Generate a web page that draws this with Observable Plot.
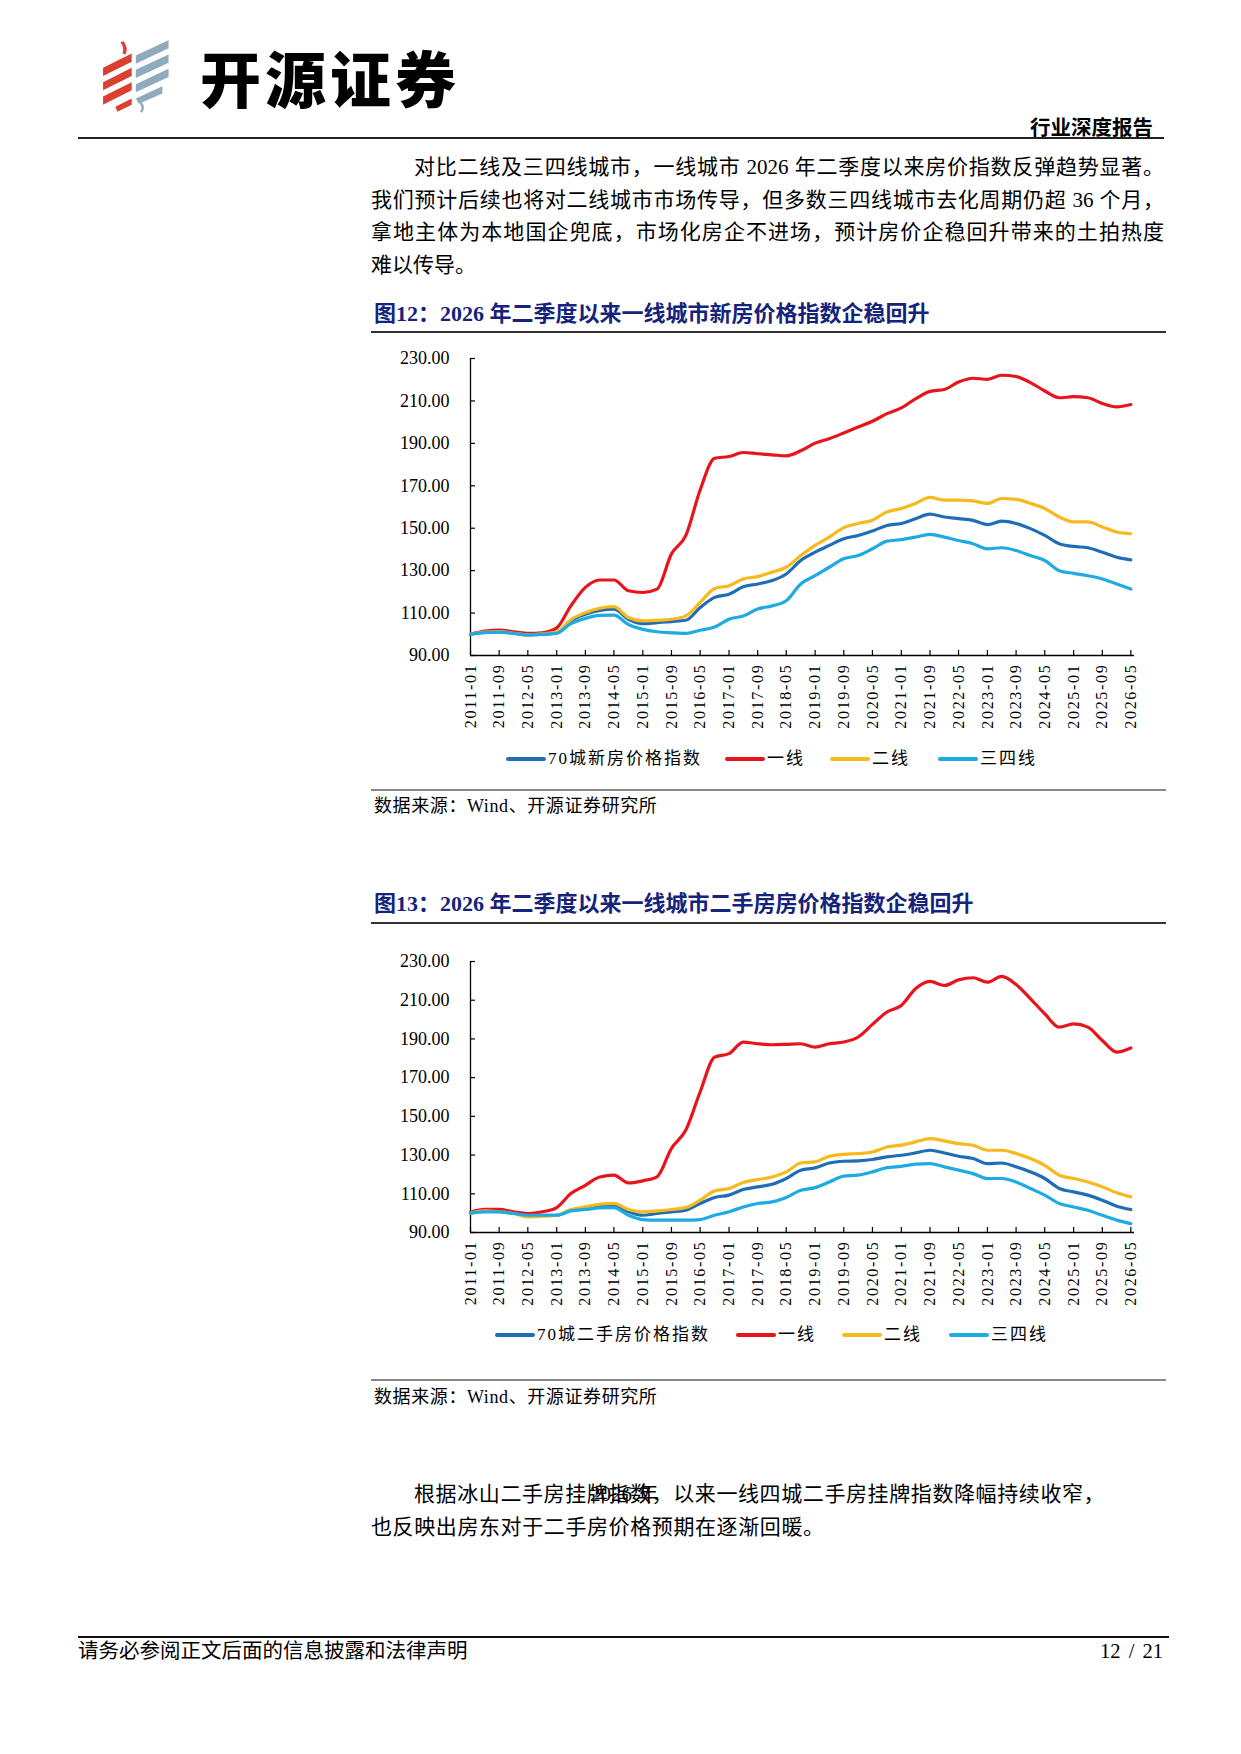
<!DOCTYPE html>
<html><head><meta charset="utf-8">
<script src="https://cdn.jsdelivr.net/npm/d3@7"></script>
<script src="https://cdn.jsdelivr.net/npm/@observablehq/plot@0.6"></script>
<style>
html,body{margin:0;padding:0;background:#fff;}
#page{position:relative;width:1241px;height:1754px;overflow:hidden;background:#fff;font-family:"Liberation Serif","Noto Sans CJK SC",serif;color:#000;}
.abs{position:absolute;white-space:nowrap;}
.rule{position:absolute;}
.para{position:absolute;font-size:21px;line-height:21px;white-space:nowrap;}
.just{text-align:justify;text-align-last:justify;}
.title{position:absolute;font-size:22px;line-height:22px;font-weight:bold;color:#15237a;white-space:nowrap;}
.src{position:absolute;font-size:18px;line-height:18px;letter-spacing:0.6px;white-space:nowrap;}
.lg-line{position:absolute;height:4px;border-radius:2px;}
.lg-text{position:absolute;font-size:17px;line-height:17px;letter-spacing:2px;white-space:nowrap;}
svg g[aria-label="x-axis tick label"] text{letter-spacing:1.7px;}
</style>
</head>
<body>
<div id="page"></div>
<script>
// ---------- DATA ----------
const months = ["2011-01","2011-05","2011-09","2012-01","2012-05","2012-09","2013-01","2013-05","2013-09","2014-01","2014-05","2014-09","2015-01","2015-05","2015-09","2016-01","2016-05","2016-09","2017-01","2017-05","2017-09","2018-01","2018-05","2018-09","2019-01","2019-05","2019-09","2020-01","2020-05","2020-09","2021-01","2021-05","2021-09","2022-01","2022-05","2022-09","2023-01","2023-05","2023-09","2024-01","2024-05","2024-09","2025-01","2025-05","2025-09","2026-01","2026-05"];
const tickLabels = ["2011-01","2011-09","2012-05","2013-01","2013-09","2014-05","2015-01","2015-09","2016-05","2017-01","2017-09","2018-05","2019-01","2019-09","2020-05","2021-01","2021-09","2022-05","2023-01","2023-09","2024-05","2025-01","2025-09","2026-05"];
const yTicks = [90,110,130,150,170,190,210,230];

const seriesNames1 = ["70城新房价格指数","一线","二线","三四线"];
const seriesNames2 = ["70城二手房价格指数","一线","二线","三四线"];
const seriesColors = ["#1f6db6","#e8141c","#f7b91b","#1eaae3"];

// 图12 新房
const new70  = [100,101,101.2,100.5,99.7,100,100.5,106.3,109.4,111.3,111.9,107.1,105,105.5,106,106.6,112.6,117.4,118.9,122.4,123.7,125.3,128.4,134.8,138.7,141.9,145,146.6,148.7,151.3,152.2,154.5,156.6,155.3,154.5,153.7,151.7,153.3,152.2,149.8,146.6,142.7,141.4,140.8,138.7,136.3,135.1];
const newT1  = [100,101.5,102,101.2,100.4,100.7,103,113.4,122.1,125.6,125.6,120.5,119.7,121.3,137.9,146.6,168,183,183.8,185.7,185.1,184.6,184.1,186.5,190.1,192.2,194.9,197.7,200.4,204,206.7,211,214.5,215.4,218.9,220.7,220.2,222.1,221.5,218.6,214.7,211.5,212,211.5,208.8,207.2,208.3];
const newT2  = [100,101,101.3,100.5,99.7,100.2,101,106.9,110.2,112.3,113,107.9,106.3,106.6,107.1,108.7,115,121.6,122.9,126.1,127.2,129.3,131.6,137.1,141.9,145.8,150.3,152.2,153.8,157.7,159.3,161.7,164.5,163.2,163.2,162.9,161.7,164,163.6,161.7,159.3,155.3,153,153,150.6,148.2,147.4];
const newT34 = [100,100.8,101,100.4,99.7,100,100.5,105,107.5,108.9,109,104.6,102.3,101.2,100.7,100.4,101.9,103.4,107.1,108.6,111.9,113.4,115.8,123.7,127.6,131.6,135.6,137.1,140.3,143.9,144.6,145.8,147.1,145.8,144.2,142.7,140.3,140.8,139.5,137.1,134.8,130,128.7,127.6,126.1,123.7,121.3];

// 图13 二手房
const sec70  = [100,101.2,101.2,100.1,99.3,98.9,98.9,101.5,102.4,103.6,103.6,100.7,98.9,99.8,100.7,101.5,105,108.1,109.3,112.2,113.6,114.9,117.9,122.2,123.4,125.9,126.8,127,127.7,129.1,129.9,131.1,132.5,131.1,129.4,128.2,125.6,125.9,123.9,121.3,117.9,112.7,111,109.3,106.7,103.6,101.9];
const secT1  = [100.5,101.9,101.9,100.7,99.8,100.7,102.9,110.1,114.4,118.7,119.6,115.6,116.7,118.7,133.5,143,162.6,180.6,182.4,188.4,187.5,187,187.2,187.5,185.8,187.5,188.4,191,197.5,203.9,207.3,215.9,219.7,217.6,220.5,221.6,219.3,222.3,218.1,210.7,203,196.1,197.8,196.1,189.2,183.2,185.3];
const secT2  = [100,101.2,100.7,99.8,98.1,98.4,98.9,101.9,103.2,104.6,105,101.9,100.7,101.2,101.9,102.9,106.7,111.5,112.7,115.8,117.3,118.7,121.3,125.9,126.5,129.4,130.4,130.8,131.6,134.2,135.1,136.8,138.5,137.3,135.9,135.1,132.5,132.5,130.8,128.2,124.7,119.6,117.9,116.1,113.6,110.5,108.4];
const secT34 = [100,100.7,100.7,99.8,98.9,98.9,98.9,101.2,101.9,102.7,102.9,98.9,96.7,96.4,96.4,96.4,96.7,98.9,100.7,103.2,105,105.8,108.1,111.8,113.2,116.1,119.1,119.6,121.3,123.5,124.2,125.3,125.6,123.9,122.2,120.4,117.9,117.9,116.1,112.7,109.3,105,103.2,101.5,98.9,96.4,94.6];

// ---------- PAGE ----------
const page = document.getElementById("page");
function add(html){ page.insertAdjacentHTML("beforeend", html); }

// logo icon
add(`<svg style="position:absolute;left:101px;top:39px" width="88" height="74" viewBox="0 0 86 72">
  <path d="M22,2 Q27,8 24,15 L21,14 Q23,8 19,3 Z" fill="#d8412f"/>
  <polygon points="2,28 30,14 30,22 2,36" fill="#d8412f"/>
  <polygon points="2,42 30,28 30,36 2,50" fill="#d8412f"/>
  <polygon points="2,56 30,42 30,50 2,64" fill="#d8412f"/>
  <polygon points="14,66 30,58 30,64 16,71" fill="#d8412f"/>
  <polygon points="34,16 66,1 66,9 34,24" fill="#8eaabb"/>
  <polygon points="34,30 66,15 66,23 34,38" fill="#8eaabb"/>
  <polygon points="34,44 66,29 66,37 34,52" fill="#8eaabb"/>
  <polygon points="34,58 60,46 60,53 37,63" fill="#8eaabb"/>
  <path d="M40,62 Q44,67 40,72 L38,71 Q41,67 38,63 Z" fill="#8eaabb"/>
</svg>`);
add(`<div class="abs" style="left:200px;top:42px;font-family:'Noto Sans CJK SC';font-size:61px;line-height:70px;font-weight:900;letter-spacing:4px;">开源证券</div>`);
add(`<div class="abs" style="right:88px;top:116px;font-family:'Noto Sans CJK SC';font-size:20.5px;line-height:21px;font-weight:bold;">行业深度报告</div>`);
add(`<div class="rule" style="left:78px;top:137px;width:1086px;height:2px;background:#222"></div>`);

// paragraph 1
add(`<div class="para just" style="left:414px;top:157px;width:750px;">对比二线及三四线城市，一线城市 2026 年二季度以来房价指数反弹趋势显著。</div>`);
add(`<div class="para just" style="left:371px;top:190px;width:793px;">我们预计后续也将对二线城市市场传导，但多数三四线城市去化周期仍超 36 个月，</div>`);
add(`<div class="para just" style="left:371px;top:222px;width:793px;">拿地主体为本地国企兜底，市场化房企不进场，预计房价企稳回升带来的土拍热度</div>`);
add(`<div class="para" style="left:371px;top:255px;">难以传导。</div>`);

// figure titles, rules, sources
add(`<div class="title" style="left:374px;top:303px;">图12：2026 年二季度以来一线城市新房价格指数企稳回升</div>`);
add(`<div class="rule" style="left:371px;top:331px;width:795px;height:1.5px;background:#333"></div>`);
add(`<div class="rule" style="left:371px;top:789px;width:795px;height:2px;background:#888"></div>`);
add(`<div class="src" style="left:374px;top:797px;">数据来源：Wind、开源证券研究所</div>`);

add(`<div class="title" style="left:374px;top:893px;">图13：2026 年二季度以来一线城市二手房房价格指数企稳回升</div>`);
add(`<div class="rule" style="left:371px;top:922px;width:795px;height:1.5px;background:#333"></div>`);
add(`<div class="rule" style="left:371px;top:1379px;width:795px;height:2px;background:#888"></div>`);
add(`<div class="src" style="left:374px;top:1388px;">数据来源：Wind、开源证券研究所</div>`);

// paragraph 2 (the reference prints "2026 年" over the words)
add(`<div class="para" style="left:414px;top:1484px;letter-spacing:0.6px;">根据冰山二手房挂牌指数，以来一线四城二手房挂牌指数降幅持续收窄，</div>`);
add(`<div class="para" style="left:590px;top:1484px;">2026 年</div>`);
add(`<div class="para" style="left:371px;top:1517px;letter-spacing:0.6px;">也反映出房东对于二手房价格预期在逐渐回暖。</div>`);

// footer
add(`<div class="rule" style="left:78px;top:1636px;width:1091px;height:2px;background:#111"></div>`);
add(`<div class="abs" style="left:78px;top:1641px;font-size:20.5px;line-height:21px;">请务必参阅正文后面的信息披露和法律声明</div>`);
add(`<div class="abs" style="right:78px;top:1641px;font-size:20.5px;line-height:21px;word-spacing:3px;">12 / 21</div>`);

// ---------- CHARTS ----------
const parse = d3.utcParse("%Y-%m");
const tickDates = tickLabels.map(parse);
const xDomain = [parse(months[0]), d3.utcMonth.offset(parse(months[months.length-1]), 1)];

function makeChart(names, valuesList, top, plotH) {
  const mB = 80, mT = 18;
  const rows = [];
  names.forEach((n, si) => valuesList[si].forEach((v, i) => rows.push({date: parse(months[i]), value: v, name: n})));
  const svg = Plot.plot({
    width: 790, height: mT + plotH + mB,
    marginLeft: 100, marginRight: 26, marginTop: mT, marginBottom: mB,
    x: {type: "utc", domain: xDomain, label: null},
    y: {domain: [yTicks[0], yTicks[yTicks.length-1]], label: null},
    style: {fontFamily: "'Liberation Serif', serif", background: "transparent", color: "#000", overflow: "visible"},
    marks: [
      Plot.axisY({ticks: yTicks, tickSize: -5, tickFormat: () => "", label: null, strokeWidth: 1.2}),
      Plot.axisY({ticks: yTicks, tickSize: 0, tickPadding: 21, tickFormat: d => d.toFixed(2), fontSize: 18, label: null}),
      Plot.axisX({ticks: tickDates, tickSize: -5, tickFormat: () => "", label: null, strokeWidth: 1.2}),
      Plot.axisX({ticks: tickDates, tickSize: 0, tickPadding: 8, tickRotate: -90, tickFormat: d3.utcFormat("%Y-%m"), fontSize: 16, label: null}),
      Plot.ruleX([xDomain[0]], {stroke: "#000", strokeWidth: 1.3}),
      Plot.ruleY([yTicks[0]], {stroke: "#000", strokeWidth: 1.3}),
      ...names.map((n, si) => Plot.line(rows.filter(r => r.name === n), {x: "date", y: "value", stroke: seriesColors[si], strokeWidth: 3.2, curve: "monotone-x"}))
    ]
  });
  svg.style.position = "absolute";
  svg.style.left = "370px";
  svg.style.top = top + "px";
  page.appendChild(svg);
}
makeChart(seriesNames1, [new70, newT1, newT2, newT34], 340, 297);
makeChart(seriesNames2, [sec70, secT1, secT2, secT34], 943, 271);

// legends
function legend(names, lineXs, cy) {
  names.forEach((n, i) => {
    add(`<div class="lg-line" style="left:${lineXs[i]}px;top:${cy-2}px;width:40px;background:${seriesColors[i]}"></div>`);
    add(`<div class="lg-text" style="left:${lineXs[i]+42}px;top:${cy-9}px;">${n}</div>`);
  });
}
legend(seriesNames1, [506, 725, 830, 938], 759);
legend(seriesNames2, [495, 736, 842, 949], 1335);
</script>
</body></html>
